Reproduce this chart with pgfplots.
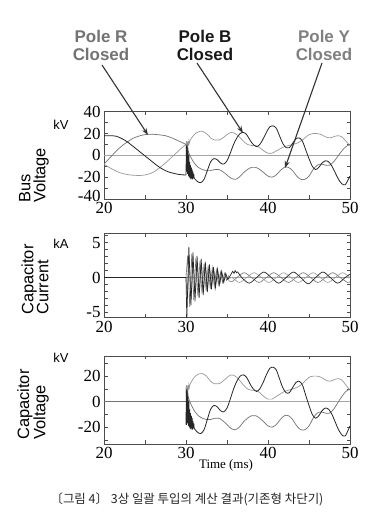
\documentclass[border=0pt]{standalone}
\usepackage{pgfplots}
\pgfplotsset{compat=1.18}
\usepackage{pgfplotstable}
\usepackage{fontspec}
\setmainfont{Liberation Serif}
\newfontfamily\arial{Liberation Sans}
\newfontfamily\kr{Noto Sans CJK KR}
\usetikzlibrary{arrows.meta}

\definecolor{cD}{gray}{0.15}
\definecolor{cB}{gray}{0.45}
\definecolor{cC}{gray}{0.6}
\definecolor{zl}{gray}{0.65}
\definecolor{frm}{gray}{0.3}

% ---------- bus / capacitor voltage after closing (kV) ----------
\pgfplotstableread{
t v
30.0 -18
30.05 9
30.1 -15
30.15 8
30.2 -17
30.25 4
30.3 -19
30.35 0
30.4 -20
30.45 -6
30.5 -21
30.55 -9
30.6 -22
30.65 -11
30.7 -21
30.75 -13
30.8 -22
30.85 -15
30.9 -21
30.95 -17
31.0 -21
}\Anoise
\pgfplotstableread{
t v
31.0 -21
31.4 -24
31.8 -25
32.2 -22
32.6 -14
33.0 -6
33.4 -3
33.8 -4
34.2 -7
34.6 -8
35.0 -5
35.4 2
35.8 10
36.2 16
36.6 20
37.0 21
37.4 19
37.8 14
38.2 10
38.6 8
39.0 10
39.4 15
39.8 21
40.2 26
40.6 27
41.0 25
41.4 18
41.8 11
42.2 7
42.6 7
43.0 11
43.4 15
43.8 16
44.2 13
44.6 5
45.0 -3
45.4 -10
45.8 -13
46.2 -11
46.6 -7
47.0 -5
47.4 -6
47.8 -10
48.2 -16
48.6 -22
49.0 -26
49.4 -27
49.8 -22
50.0 -19
}\Apost
\pgfplotstableread{
t v
30.0 10
30.05 13
30.1 7
30.15 12
30.2 8
30.25 13
30.3 9
30.35 13
30.4 11
30.5 14
}\Cnoise
\pgfplotstableread{
t v
30.5 14
31.0 19
31.5 21.5
32.0 22
32.5 20
33.0 16
33.5 14
34.0 14
34.5 16
35.0 19
35.5 21
36.0 20
36.5 17
37.0 13
37.5 10
38.0 9
38.5 9
39.0 7
39.5 4
40.0 2
40.5 2
41.0 4
41.5 6
42.0 8
42.5 9
43.0 10
43.5 11
44.0 13
44.5 16
45.0 19
45.5 20
46.0 20
46.5 19
47.0 17
47.5 16
48.0 17
48.5 18
49.0 17
49.5 13
50.0 9
}\Cpost
\pgfplotstableread{
t v
30.0 10
30.05 5
30.1 10
30.15 4
30.2 8
30.3 3
}\Bnoise
\pgfplotstableread{
t v
30.3 3
30.6 -2
31.0 -7
31.5 -11
32.0 -13
32.5 -14
33.0 -14
33.5 -13
34.0 -13
34.5 -15
35.0 -18
35.5 -21
36.0 -22
36.5 -20
37.0 -16
37.5 -13
38.0 -11
38.5 -11
39.0 -13
39.5 -16
40.0 -19
40.5 -20
41.0 -18
41.5 -14
42.0 -11
42.5 -11
43.0 -14
43.5 -19
44.0 -22
44.5 -22
45.0 -19
45.5 -13
46.0 -9
46.5 -8
47.0 -9
47.5 -9
48.0 -6
48.5 -1
49.0 4
49.5 8
50.0 10
}\Bpost

\pgfplotsset{
 panel/.style={scale only axis, width=246bp, xmin=20, xmax=50,
  xtick={20,25,...,50}, xticklabels={20,,30,,40,,50},
  tick pos=both, tick align=inside, major tick length=3.5bp,
  axis line style={draw=frm, line width=0.7bp},
  every tick/.append style={draw=frm, line width=0.6bp},
  tick label style={font=\fontsize{17}{17}\selectfont},
  clip=true},
}

\begin{document}
\begin{tikzpicture}
\path[use as bounding box, fill=white] (0,0) rectangle (371bp,515bp);

% ---------------- panel 1: bus voltage ----------------
\begin{axis}[panel, at={(104bp,316bp)}, anchor=south west, height=87.3bp,
  ymin=-40, ymax=40, ytick={-40,-30,...,40},
  yticklabels={\raisebox{7bp}{-40},,-20,,0,,20,,40}]
\addplot[zl, line width=0.7bp] coordinates {(20,0) (50,0)};
\addplot[cC, line width=0.7bp, smooth] coordinates {
(20,-8) (20.5,-10.5) (21,-12.5) (21.5,-14.5) (22,-16) (22.5,-17) (23,-17.8) (23.5,-18.2)
(24,-18.4) (24.5,-18.4) (25,-18) (25.5,-17) (26,-15.5) (26.5,-13) (27,-10) (27.5,-7)
(28,-3.5) (28.5,0) (29,3.5) (29.5,7) (30,10)};
\addplot[cB, line width=0.7bp, smooth] coordinates {
(20,-8) (20.5,-4) (21,0) (21.5,4) (22,7.5) (22.5,10.5) (23,13) (23.5,15.5) (24,17)
(24.5,18.2) (25,19) (25.5,19.3) (26,19.3) (26.5,19) (27,18.6) (27.5,18) (28,16.8)
(28.5,15.3) (29,13.5) (29.5,11.8) (30,10)};
\addplot[cD, line width=0.8bp, smooth] coordinates {
(20,18) (20.5,18) (21,18) (21.5,17.5) (22,16) (22.5,14) (23,11.5) (23.5,8.5) (24,5.5)
(24.5,2.5) (25,-0.5) (25.5,-3.5) (26,-6.5) (26.5,-9.5) (27,-12) (27.5,-14) (28,-15.5)
(28.5,-16.5) (29,-17.3) (29.5,-17.8) (30,-18)};
\addplot[cC, line width=0.7bp] table {\Cnoise};
\addplot[cC, line width=0.7bp, smooth] table {\Cpost};
\addplot[cB, line width=0.7bp] table {\Bnoise};
\addplot[cB, line width=0.7bp, smooth] table {\Bpost};
\addplot[cD, line width=0.8bp] table {\Anoise};
\addplot[cD, line width=0.8bp, smooth] table {\Apost};
\end{axis}

% ---------------- panel 2: capacitor current ----------------
\begin{axis}[panel, at={(104bp,197.7bp)}, anchor=south west, height=83.6bp,
  ymin=-5.7, ymax=6.3, ytick={-5,...,6}, yticklabels={-5,,,,,0,,,,,5,}]
\addplot[zl, line width=0.6bp] coordinates {(20,0) (50,0)};
\addplot[cC, line width=0.6bp] coordinates {
(30,0) (30.15,-2.5) (30.4,2.8) (30.65,-3.0) (30.9,2.4) (31.15,-2.3) (31.4,2.0) (31.65,-1.9)
(31.9,1.7) (32.15,-1.6) (32.4,1.4) (32.65,-1.3) (32.9,1.1) (33.15,-1.0) (33.4,0.9)
(33.65,-0.8) (33.9,0.7) (34.15,-0.6) (34.4,0.5) (34.65,-0.4) (34.9,0.3) (35.15,-0.2)};
\addplot[cB, line width=0.6bp] coordinates {
(30,0) (30.2,3.2) (30.45,-4.2) (30.7,3.4) (30.95,-3.2) (31.2,2.8) (31.45,-2.7) (31.7,2.4)
(31.95,-2.3) (32.2,2.0) (32.45,-1.9) (32.7,1.7) (32.95,-1.6) (33.2,1.4) (33.45,-1.3)
(33.7,1.1) (33.95,-1.0) (34.2,0.8) (34.45,-0.7) (34.7,0.6) (34.95,-0.4) (35.2,0.3)};
\addplot[cD, line width=0.7bp] coordinates {
(20,0) (30,0) (30.1,-5.9) (30.35,4.4) (30.6,-4.0) (30.85,3.6) (31.1,-3.4) (31.35,3.1)
(31.6,-2.9) (31.85,2.7) (32.1,-2.5) (32.35,2.3) (32.6,-2.1) (32.85,1.9) (33.1,-1.7)
(33.35,1.5) (33.6,-1.4) (33.85,1.2) (34.1,-1.0) (34.35,0.9) (34.6,-0.7) (34.85,0.6) (35.1,-0.3)};
\addplot[cC, line width=0.6bp, smooth] coordinates {
(35.15,-0.2) (35.6,0) (36.5,-0.7) (37.4,0) (38.3,0.7) (39.2,0) (40.1,-0.7) (41.0,0)
(41.9,0.7) (42.8,0) (43.7,-0.7) (44.6,0) (45.5,0.7) (46.4,0) (47.3,-0.7) (48.2,0)
(49.1,0.7) (50.0,0)};
\addplot[cB, line width=0.6bp, smooth] coordinates {
(35.2,-0.4) (35.6,-0.6) (36.2,0) (37.1,0.7) (38.0,0) (38.9,-0.7) (39.8,0) (40.7,0.7)
(41.6,0) (42.5,-0.7) (43.4,0) (44.3,0.7) (45.2,0) (46.1,-0.7) (47.0,0) (47.9,0.7)
(48.8,0) (49.7,-0.7) (50,-0.6)};
\addplot[cD, line width=0.7bp, smooth] coordinates {
(35.1,-0.3) (35.5,0.5) (35.7,0.9) (35.85,0.6) (36.0,1.0) (36.15,0.7) (36.3,0.8) (36.8,0)
(37.7,-0.8) (38.6,0) (39.5,0.8) (40.4,0) (41.3,-0.8) (42.2,0) (43.1,0.8) (44.0,0)
(44.9,-0.9) (45.8,0) (46.7,0.8) (47.6,0) (48.5,-0.8) (49.4,0) (50.0,0.5)};
\end{axis}

% ---------------- panel 3: capacitor voltage ----------------
\begin{axis}[panel, at={(104bp,71bp)}, anchor=south west, height=88bp,
  ymin=-33.2, ymax=35.8, ytick={-30,-20,...,30}, yticklabels={,-20,,0,,20,}]
\addplot[zl, line width=0.7bp] coordinates {(20,0) (50,0)};
\addplot[cB, line width=0.7bp] coordinates {(20,0) (30,0) (30,10)};
\addplot[cC, line width=0.7bp] table {\Cnoise};
\addplot[cC, line width=0.7bp, smooth] table {\Cpost};
\addplot[cB, line width=0.7bp] table {\Bnoise};
\addplot[cB, line width=0.7bp, smooth] table {\Bpost};
\addplot[cD, line width=0.8bp] coordinates {(30,0) (30,-18)};
\addplot[cD, line width=0.8bp] table {\Anoise};
\addplot[cD, line width=0.8bp, smooth] table {\Apost};
\end{axis}

% ---------------- texts ----------------
\node[font=\arial\fontsize{13}{13}\selectfont] at (61bp,390bp) {kV};
\node[font=\arial\fontsize{13}{13}\selectfont] at (61bp,271bp) {kA};
\node[font=\arial\fontsize{13}{13}\selectfont] at (61bp,157bp) {kV};
\node[rotate=90, anchor=west, align=left, inner sep=0pt, font=\arial\fontsize{16.5}{15}\selectfont] at (34bp,312bp) {Bus\\Voltage};
\node[rotate=90, anchor=west, align=left, inner sep=0pt, font=\arial\fontsize{16.5}{15}\selectfont] at (35bp,200bp) {Capacitor\\Current};
\node[rotate=90, anchor=west, align=left, inner sep=0pt, font=\arial\fontsize{16.5}{15}\selectfont] at (33bp,75bp) {Capacitor\\Voltage};

\node[align=center, text=black!55, font=\arial\bfseries\fontsize{17}{18}\selectfont] at (101bp,469.5bp) {Pole R\\Closed};
\node[align=center, text=black!90, font=\arial\bfseries\fontsize{17}{18}\selectfont] at (205bp,469.5bp) {Pole B\\Closed};
\node[align=center, text=black!50, font=\arial\bfseries\fontsize{17}{18}\selectfont] at (324bp,469.5bp) {Pole Y\\Closed};

\draw[-{Stealth[length=7bp,width=5bp]}, line width=1.1bp, black!80] (102bp,450bp) -- (148bp,380bp);
\draw[-{Stealth[length=7bp,width=5bp]}, line width=1.1bp, black!80] (197bp,452bp) -- (243bp,382bp);
\draw[-{Stealth[length=7bp,width=5bp]}, line width=1.1bp, black!80] (322bp,452bp) -- (285bp,347bp);

\node[font=\fontsize{13}{13}\selectfont] at (226bp,50bp) {Time (ms)};
\node[text=black!85, font=\kr\fontsize{12.5}{12.5}\selectfont] at (187bp,16bp) {〔그림 4〕 3상 일괄 투입의 계산 결과(기존형 차단기)};
\end{tikzpicture}
\end{document}
